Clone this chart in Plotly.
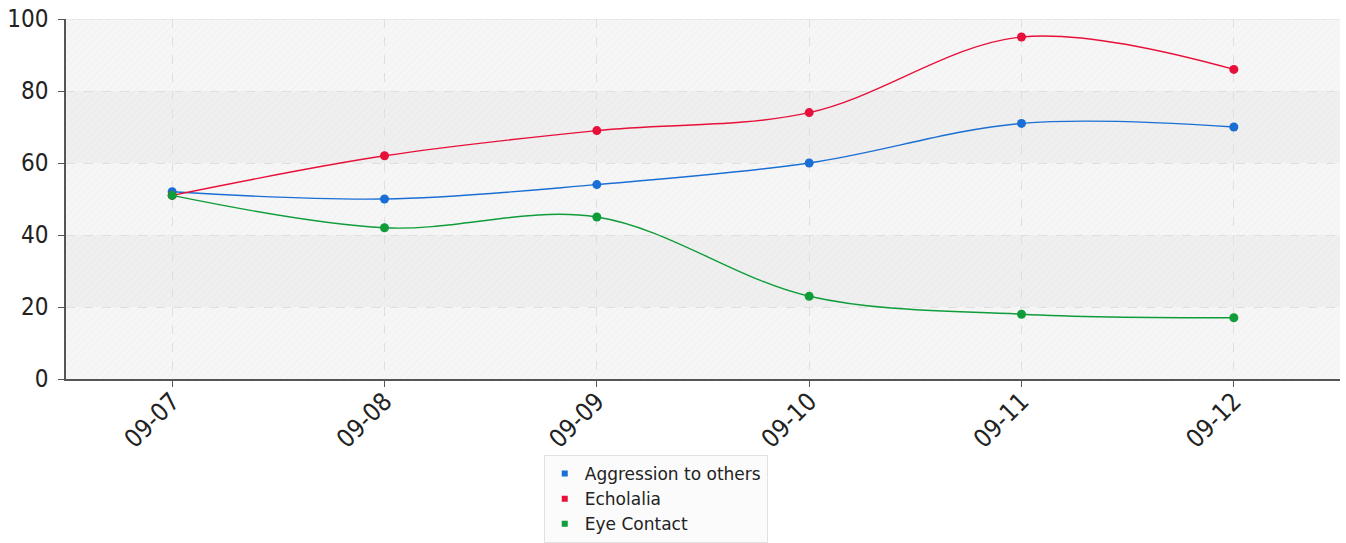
import plotly.graph_objects as go

dates = ["09-07", "09-08", "09-09", "09-10", "09-11", "09-12"]
aggression = [52, 50, 54, 60, 71, 70]
echolalia = [51, 62, 69, 74, 95, 86]
eye_contact = [51, 42, 45, 23, 18, 17]
y_ticks = [0, 20, 40, 60, 80, 100]

series = [
    ("Aggression to others", aggression, "#1a6fd6"),
    ("Echolalia", echolalia, "#e8103a"),
    ("Eye Contact", eye_contact, "#0f9d3a"),
]

TICK_FONT = "DejaVu Sans Condensed, DejaVu Sans, sans-serif"
LEG_FONT = "DejaVu Sans, sans-serif"

W, H = 1346, 543
M_L, M_R, M_T, M_B = 66, 6, 19, 0
PLOT_BOTTOM = 379  # pixel row of the x axis
dom_low = (H - M_B - PLOT_BOTTOM) / (H - M_B - M_T)

fig = go.Figure()

# subtle diagonal hatching over the plot background
fig.add_trace(go.Bar(
    x=[0.5], y=[y_ticks[-1] - y_ticks[0]], base=[y_ticks[0]], width=[1],
    xaxis="x2", yaxis="y", showlegend=False, hoverinfo="skip",
    marker=dict(color="rgba(0,0,0,0)", line=dict(width=0),
                pattern=dict(shape="/", fgcolor="rgba(0,0,0,0.035)",
                             bgcolor="rgba(0,0,0,0)", size=5, solidity=0.25)),
))

for name, vals, color in series:
    fig.add_trace(go.Scatter(
        x=dates, y=vals, name=name, mode="lines+markers", showlegend=False,
        line=dict(color=color, width=1.4, shape="spline", smoothing=1.0),
        marker=dict(color=color, size=9, symbol="circle"),
    ))
for name, vals, color in series:
    fig.add_trace(go.Scatter(
        x=[None], y=[None], name=name, mode="markers",
        marker=dict(color=color, size=6, symbol="square"),
    ))

band_colors = ["#f6f6f6", "#efefef"]
for i in range(len(y_ticks) - 1):
    fig.add_shape(type="rect", xref="paper", yref="y", x0=0, x1=1,
                  y0=y_ticks[i], y1=y_ticks[i + 1],
                  fillcolor=band_colors[i % 2], line=dict(width=0), layer="below")
fig.add_shape(type="line", xref="paper", yref="y", x0=0, x1=1,
              y0=y_ticks[-1], y1=y_ticks[-1],
              line=dict(color="#dcdcdc", width=1), layer="below")

fig.update_layout(
    width=W, height=H,
    margin=dict(l=M_L, r=M_R, t=M_T, b=M_B),
    paper_bgcolor="white", plot_bgcolor="rgba(0,0,0,0)",
    font=dict(family=TICK_FONT, color="#222222"),
    barmode="overlay",
    legend=dict(
        x=0.375, y=0, xanchor="left", yanchor="bottom",
        bgcolor="#fbfbfb", bordercolor="#e2e2e2", borderwidth=1,
        font=dict(size=17, color="#222222", family=LEG_FONT),
        tracegroupgap=0, itemwidth=30,
    ),
    xaxis=dict(
        domain=[0, 1],
        type="category", range=[-0.5, 5.5], automargin=False,
        tickangle=-45, tickfont=dict(size=25, color="#222222"),
        ticklabelstandoff=-10,
        showgrid=True, gridcolor="#e0e0e0", griddash="dash", gridwidth=1,
        showline=True, linecolor="#555555", linewidth=1.5,
        ticks="outside", ticklen=6, tickcolor="#555555",
        zeroline=False,
    ),
    yaxis=dict(
        domain=[dom_low, 1],
        range=[0, 100], tickvals=y_ticks, automargin=False,
        tickfont=dict(size=24, color="#222222"),
        ticklabelstandoff=5,
        showgrid=True, gridcolor="#e0e0e0", griddash="dash", gridwidth=1,
        showline=True, linecolor="#555555", linewidth=1.5,
        ticks="outside", ticklen=6, tickcolor="#555555",
        zeroline=False,
    ),
    xaxis2=dict(overlaying="x", range=[0, 1], visible=False, domain=[0, 1]),
)
fig.write_html(
    "out.html",
    config={"displayModeBar": False},
    post_script="document.body.style.margin='0px';document.body.style.overflow='hidden';",
)
